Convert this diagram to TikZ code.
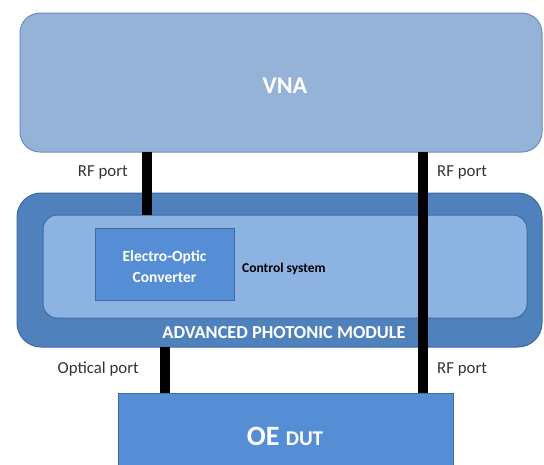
\documentclass[tikz,border=0pt]{standalone}
\usepackage{fontspec}
\setmainfont{Carlito}
\definecolor{vnafill}{HTML}{95B3D7}
\definecolor{vnaline}{HTML}{6A8DBE}
\definecolor{apmfill}{HTML}{4F81BD}
\definecolor{apmline}{HTML}{3F6A9E}
\definecolor{innerfill}{HTML}{8DB3E2}
\definecolor{innerline}{HTML}{3F6A9E}
\definecolor{boxfill}{HTML}{558ED5}
\definecolor{boxline}{HTML}{3F6A9E}
\begin{document}
\begin{tikzpicture}[x=1pt,y=-1pt,
  wire/.style={line width=10pt,black},
  lbl/.style={font=\fontsize{16.8}{18}\selectfont,text=black!80,inner sep=0pt},
  whitebold/.style={text=white,font=\bfseries}]
\useasboundingbox (0,0) rectangle (544,464);
% VNA
\draw[vnaline,fill=vnafill,line width=1pt,rounded corners=20pt] (20,13) rectangle (542,152);
\node[whitebold,font=\bfseries\fontsize{24}{26}\selectfont] (vna) at (285,86) {VNA};
\coordinate (vnaL) at (147,152);
\coordinate (vnaR) at (423,152);
% APM outer
\draw[apmline,fill=apmfill,line width=1pt,rounded corners=24pt] (17,193) rectangle (542,347);
% inner
\draw[innerline,fill=innerfill,line width=1pt,rounded corners=14pt] (43,215) rectangle (527,318);
\coordinate (innerL) at (147,215);
% EO converter
\node[draw=boxline,fill=boxfill,line width=0.8pt,minimum width=139pt,minimum height=72pt,anchor=north west,inner sep=0pt] (eo) at (95,228) {};
\node[text=white,font=\bfseries\fontsize{15.5}{21}\selectfont,align=center] (eotext) at (164.5,267) {Electro-Optic\\Converter};
\node[anchor=west,font=\bfseries\fontsize{13.5}{15}\selectfont,inner sep=0pt] (ctrl) at (242,269) {Control system};
\node[whitebold,font=\bfseries\fontsize{18.3}{20}\selectfont] (apm) at (284,333) {ADVANCED PHOTONIC MODULE};
\coordinate (apmB) at (165,347);
% OE DUT
\node[draw=boxline,fill=boxfill,line width=0.8pt,minimum width=335pt,minimum height=80pt,anchor=north west,inner sep=0pt] (dut) at (118,393) {};
\node[text=white,font=\bfseries] (duttext) at (285,436) {\fontsize{28}{30}\selectfont OE \fontsize{21}{24}\selectfont DUT};
\coordinate (dutL) at (165,393);
\coordinate (dutR) at (423,393);
% wires
\draw[wire] (vnaL) -- (innerL);
\draw[wire] (vnaR) -- (dutR);
\draw[wire] (apmB) -- (dutL);
% labels
\node[lbl,anchor=east] (l1) at (128,172) {RF port};
\node[lbl,anchor=west] (l2) at (437,172) {RF port};
\node[lbl,anchor=east] (l3) at (139,369) {Optical port};
\node[lbl,anchor=west] (l4) at (437,369) {RF port};
\end{tikzpicture}
\end{document}
